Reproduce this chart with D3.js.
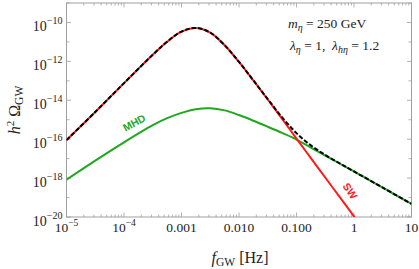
<!DOCTYPE html>
<html>
<head>
<meta charset="utf-8">
<script src="https://cdn.jsdelivr.net/npm/d3@7"></script>
<style>
  body { margin: 0; background: #fff; }
  svg { display: block; }
  text { font-family: "Liberation Serif", "DejaVu Serif", serif; fill: #222; }
</style>
</head>
<body>
<div id="chart"></div>
<script>
// log10 of frequency [Hz] at which the curves were read
var logFreq = [-5, -4.5, -4, -3.5, -3.25, -3, -2.75, -2.5, -2.25, -2, -1.75, -1.5, -1.25, -1, -0.75, -0.5, -0.25, 0, 0.5, 1];
// log10(h^2 Omega_GW) for sound waves, MHD turbulence and their sum
var swVals = [-16.05, -14.60, -13.12, -11.66, -10.99, -10.47, -10.28, -10.52, -11.17, -12.03, -12.98, -13.96, -14.96, -15.97, -16.97, -17.97, -18.97, -19.97, -21.97, -23.97];
var mhdVals = [-18.08, -17.10, -16.16, -15.28, -14.92, -14.65, -14.46, -14.41, -14.52, -14.76, -15.05, -15.36, -15.68, -16.02, -16.43, -16.84, -17.25, -17.66, -18.49, -19.33];
var totVals = [-16.05, -14.60, -13.12, -11.66, -10.99, -10.47, -10.28, -10.52, -11.17, -12.03, -12.98, -13.94, -14.88, -15.69, -16.32, -16.81, -17.24, -17.66, -18.49, -19.33];

var xTicks = [1e-5, 1e-4, 1e-3, 1e-2, 1e-1, 1, 10];
var xTickText = [["10", "\u22125"], ["10", "\u22124"], ["0.001"], ["0.010"], ["0.100"], ["1"], ["10"]];
var yTickExp = [-20, -18, -16, -14, -12, -10];

var W = 419, H = 269;
var margin = { top: 3, right: 7.5, bottom: 52, left: 66.5 };
var width = W - margin.left - margin.right,
  height = H - margin.top - margin.bottom;

var x = d3.scaleLog().domain([1e-5, 10]).range([0, width]);
var y = d3.scaleLog().domain([1e-20, 1e-9]).range([height, 0]);

var svg = d3.select("#chart").append("svg")
  .attr("width", W).attr("height", H)
  .append("g")
  .attr("transform", "translate(" + margin.left + "," + margin.top + ")");

svg.append("defs").append("clipPath").attr("id", "clip")
  .append("rect").attr("width", width).attr("height", height);

// frame
var frameCol = "#a0a0a0";
svg.append("rect").attr("width", width).attr("height", height)
  .attr("fill", "none").attr("stroke", frameCol).attr("stroke-width", 1);

// ticks (inside, on all sides)
var minorX = [];
for (var e = -5; e < 1; e++) {
  for (var m = 2; m <= 9; m++) minorX.push(m * Math.pow(10, e));
}
var tg = svg.append("g").attr("stroke", frameCol).attr("stroke-width", 0.8);
xTicks.forEach(function(v) {
  tg.append("line").attr("x1", x(v)).attr("x2", x(v)).attr("y1", height).attr("y2", height - 4.5);
  tg.append("line").attr("x1", x(v)).attr("x2", x(v)).attr("y1", 0).attr("y2", 4.5);
});
minorX.forEach(function(v) {
  tg.append("line").attr("x1", x(v)).attr("x2", x(v)).attr("y1", height).attr("y2", height - 2.5);
  tg.append("line").attr("x1", x(v)).attr("x2", x(v)).attr("y1", 0).attr("y2", 2.5);
});
for (var k = -20; k <= -9; k++) {
  var yy = y(Math.pow(10, k));
  var len = (k % 2 === 0) ? 4.5 : 3;
  tg.append("line").attr("x1", 0).attr("x2", len).attr("y1", yy).attr("y2", yy);
  tg.append("line").attr("x1", width).attr("x2", width - len).attr("y1", yy).attr("y2", yy);
}

// x tick labels
xTicks.forEach(function(v, i) {
  var t = svg.append("text")
    .attr("x", x(v)).attr("y", height + 15)
    .attr("text-anchor", "middle")
    .attr("font-size", 13.5);
  t.append("tspan").text(xTickText[i][0]);
  if (xTickText[i][1]) {
    t.append("tspan").attr("dy", -6).attr("font-size", 9.5).text(xTickText[i][1]);
  }
});

// y tick labels
yTickExp.forEach(function(k) {
  var t = svg.append("text")
    .attr("x", -4).attr("y", y(Math.pow(10, k)) + 9)
    .attr("text-anchor", "end")
    .attr("font-size", 14);
  t.append("tspan").text("10");
  t.append("tspan").attr("dy", -7).attr("font-size", 10).text("\u2212" + (-k));
});

// curves
function pts(vals) {
  return logFreq.map(function(lf, i) { return [Math.pow(10, lf), Math.pow(10, vals[i])]; });
}
var line = d3.line()
  .x(function(d) { return x(d[0]); })
  .y(function(d) { return y(d[1]); })
  .curve(d3.curveCatmullRom.alpha(0.5));

var plot = svg.append("g").attr("clip-path", "url(#clip)");
plot.append("path").attr("d", line(pts(mhdVals)))
  .attr("fill", "none").attr("stroke", "#1fa81f").attr("stroke-width", 2);
plot.append("path").attr("d", line(pts(swVals)))
  .attr("fill", "none").attr("stroke", "#ff1a1a").attr("stroke-width", 2);
plot.append("path").attr("d", line(pts(totVals)))
  .attr("fill", "none").attr("stroke", "#000").attr("stroke-width", 2)
  .attr("stroke-dasharray", "4.5,2");

// curve labels
svg.append("text")
  .attr("transform", "translate(" + (136 - margin.left) + "," + (126 - margin.top) + ") rotate(-29)")
  .attr("text-anchor", "middle")
  .style("font-family", "'Liberation Sans', Arial, sans-serif")
  .style("font-weight", "bold").style("fill", "#1fa81f")
  .attr("font-size", 10.5).text("MHD");
svg.append("text")
  .attr("transform", "translate(" + (347 - margin.left) + "," + (193 - margin.top) + ") rotate(56)")
  .attr("text-anchor", "middle")
  .style("font-family", "'Liberation Sans', Arial, sans-serif")
  .style("font-weight", "bold").style("fill", "#ff1a1a")
  .attr("font-size", 10.5).text("SW");

// annotation
var a1 = svg.append("text").attr("x", 288 - margin.left).attr("y", 28 - margin.top).attr("font-size", 13.5);
a1.append("tspan").attr("font-style", "italic").text("m");
a1.append("tspan").attr("font-style", "italic").attr("font-size", 10).attr("dy", 3).text("\u03b7");
a1.append("tspan").attr("dy", -3).text(" = 250 GeV");

var a2 = svg.append("text").attr("x", 290 - margin.left).attr("y", 50 - margin.top).attr("font-size", 13.5);
a2.append("tspan").attr("font-style", "italic").text("\u03bb");
a2.append("tspan").attr("font-style", "italic").attr("font-size", 10).attr("dy", 3).text("\u03b7");
a2.append("tspan").attr("dy", -3).text(" = 1,\u00a0\u00a0");
a2.append("tspan").attr("font-style", "italic").text("\u03bb");
a2.append("tspan").attr("font-style", "italic").attr("font-size", 10).attr("dy", 3).text("h\u03b7");
a2.append("tspan").attr("dy", -3).text(" = 1.2");

// axis titles
var xl = svg.append("text").attr("x", 240 - margin.left).attr("y", 263 - margin.top)
  .attr("text-anchor", "middle").attr("font-size", 16);
xl.append("tspan").attr("font-style", "italic").text("f");
xl.append("tspan").attr("font-size", 11.5).attr("dy", 3).text("GW");
xl.append("tspan").attr("dy", -3).text(" [Hz]");

var yl = svg.append("text")
  .attr("transform", "translate(" + (20 - margin.left) + "," + (110 - margin.top) + ") rotate(-90)")
  .attr("text-anchor", "middle").attr("font-size", 16);
yl.append("tspan").attr("font-style", "italic").text("h");
yl.append("tspan").attr("font-size", 11).attr("dy", -6).text("2");
yl.append("tspan").attr("dy", 6).text("\u00a0\u03a9");
yl.append("tspan").attr("font-size", 11.5).attr("dy", 3).text("GW");
</script>
</body>
</html>
